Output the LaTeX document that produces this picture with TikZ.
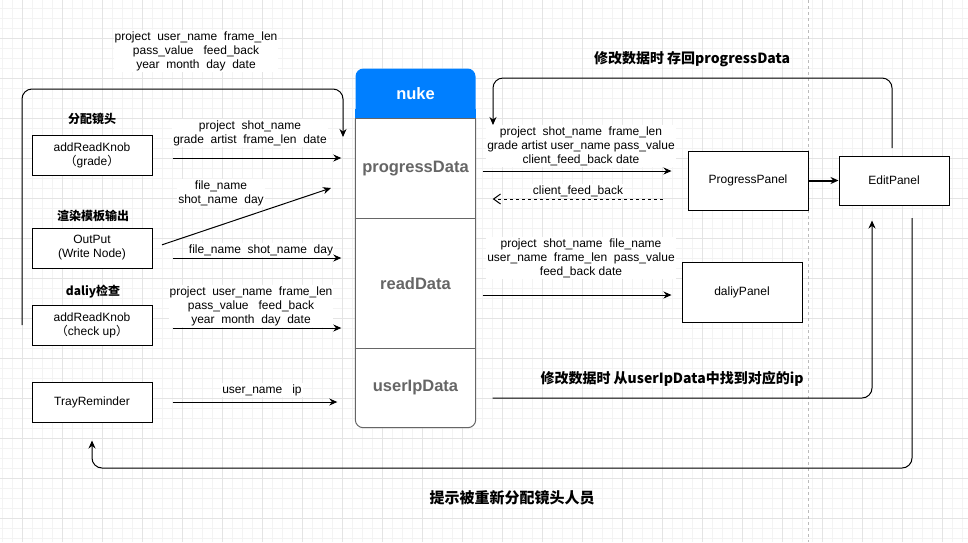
\documentclass[tikz,border=0pt]{standalone}
\usepackage{fontspec}
\setmainfont{Liberation Sans}
\newfontfamily\cjk{Noto Sans CJK SC}
\usetikzlibrary{arrows.meta}

\begin{document}
\begin{tikzpicture}[x=1pt,y=-1pt,
  box/.style={draw,fill=white,line width=1pt,minimum width=120pt,minimum height=40pt,align=center,font=\fontsize{12}{14}\selectfont},
  sect/.style={minimum width=120pt,text=textgray,font=\fontsize{16.5}{18}\selectfont\bfseries},
  lbl/.style={fill=white,inner sep=1pt,align=center,font=\fontsize{12}{14}\selectfont},
  note/.style={font=\cjk\fontsize{12}{14}\selectfont\bfseries},
  flow/.style={line width=1pt,-{Stealth[length=8pt,width=7pt]}},
  back/.style={line width=1pt,dash pattern=on 3pt off 3pt,-{Straight Barb[length=7pt,width=10pt]}}]
\definecolor{nukeblue}{HTML}{007FFF}
\definecolor{textgray}{HTML}{666666}
\definecolor{gridminor}{HTML}{F3F3F3}
\definecolor{gridmajor}{HTML}{E4E4E4}
\definecolor{guide}{HTML}{BBBBBB}
\useasboundingbox (0,0) rectangle (968,542);
\fill[white] (0,0) rectangle (968,542);
  \foreach \gx in {2,12,...,962}
  {  \draw[gridminor] (\gx,0) -- (\gx,542);}
  \foreach \gy in {8,18,...,538}
  {  \draw[gridminor] (0,\gy) -- (968,\gy);}
  \foreach \gx in {22,62,...,942}
  {  \draw[gridmajor] (\gx,0) -- (\gx,542);}
  \foreach \gy in {38,78,...,518}
  {  \draw[gridmajor] (0,\gy) -- (968,\gy);}
\draw[guide,dash pattern=on 3pt off 3pt] (808,0) -- (808,542);

\node[note] (notePick) at (92,119) {分配镜头};
\node[note] (noteRender) at (93,216) {渲染模板输出};
\node[note] (noteDaily) at (93,292) {daliy检查};
\node[box] (knob1) at (92,155.5) {addReadKnob\\{\cjk （}grade{\cjk ）}};
\node[box] (out) at (92,248) {OutPut\\(Write Node)};
\node[box] (knob2) at (92,325.5) {addReadKnob\\{\cjk （}check up{\cjk ）}};
\node[box] (tray) at (92,402) {TrayReminder};

\fill[white,rounded corners=8pt] (355.5,68.5) rectangle (475.5,427.5);
\node[sect,fill=nukeblue,rounded corners=8pt,minimum height=50pt,text=white] (nuke) at (415.5,93.5) {nuke};
\fill[nukeblue] ([yshift=10pt]nuke.south west) rectangle (nuke.south east);
\node[sect,minimum height=100pt] (progress) at (415.5,168.5) {progressData};
\node[sect,minimum height=130pt] (read) at (415.5,283.5) {readData};
\node[sect,minimum height=79pt] (userip) at (415.5,388) {userIpData};
\draw[textgray,line width=1pt,rounded corners=8pt] (nuke.south west) -- (userip.south west) -- (userip.south east) -- (nuke.south east);
  \foreach \sec in {progress,read,userip}
  {  \draw[textgray,line width=1pt] (\sec.north west) -- (\sec.north east);}

\node[box,minimum height=59pt] (ppanel) at (748,180.5) {ProgressPanel};
\node[box,minimum width=110pt,minimum height=49pt] (epanel) at (894,180.5) {EditPanel};
\node[box,minimum height=60pt] (dpanel) at (742,292) {daliyPanel};

\node[lbl] (lblLoop) at (196,51) {project~~user\_name~~frame\_len\\pass\_value~~~feed\_back\\year~~month~~day~~date};
\node[lbl] (lblKnob1) at (250,133) {project~~shot\_name\\grade~~artist~~frame\_len~~date};
\node[lbl] (lblDiag) at (221,193) {file\_name\\shot\_name~~day};
\node[lbl] (lblOut) at (261,250) {file\_name~~shot\_name~~day};
\node[lbl] (lblKnob2) at (251,306) {project~~user\_name~~frame\_len\\pass\_value~~~feed\_back\\year~~month~~day~~date};
\node[lbl] (lblTray) at (262,390) {user\_name~~~ip};
\node[lbl] (lblProg) at (581,146) {project~~shot\_name~~frame\_len\\grade artist user\_name pass\_value\\client\_feed\_back date};
\node[lbl] (lblFeed) at (578,191) {client\_feed\_back};
\node[lbl] (lblRead) at (581,258) {project~~shot\_name~~file\_name\\user\_name~~frame\_len~~pass\_value\\feed\_back date};
\node[note,font=\cjk\fontsize{14}{16}\selectfont\bfseries] (noteSave) at (692,59) {修改数据时 存回progressData};
\node[note,font=\cjk\fontsize{14}{16}\selectfont\bfseries] (noteFind) at (672,379) {修改数据时 从userIpData中找到对应的ip};
\node[note,font=\cjk\fontsize{15}{17}\selectfont\bfseries] (noteRemind) at (512,498) {提示被重新分配镜头人员};

\coordinate (loopStart) at (22,325);
\coordinate (loopEnd) at (343,137);
\coordinate (diagEnd) at (331,188);
\coordinate (editTop) at (892,148);
\coordinate (progIn) at (493,125);
\coordinate (editOut) at (912,218);

\draw[flow,rounded corners=10pt] (loopStart) -- (22,89) -- (343,89) -- (loopEnd);
\draw[flow,shorten <=20pt,shorten >=14pt] ([yshift=-2.5pt]knob1.east) -- ([yshift=-2.5pt]knob1.east -| progress.west);
\draw[flow,shorten <=10pt] (out.east) -- (diagEnd);
\draw[flow,shorten <=20pt,shorten >=14pt] ([yshift=-10pt]out.east) -- ([yshift=-10pt]out.east -| read.west);
\draw[flow,shorten <=20pt,shorten >=14pt] ([yshift=-2.5pt]knob2.east) -- ([yshift=-2.5pt]knob2.east -| read.west);
\draw[flow,shorten <=20pt,shorten >=18pt] (tray.east) -- (tray.east -| userip.west);

\draw[flow,shorten <=7pt,shorten >=16pt] ([yshift=-2.5pt]progress.east) -- ([yshift=-2.5pt]progress.east -| ppanel.west);
\draw[back,shorten <=25pt,shorten >=17pt] ([yshift=-18.5pt]ppanel.west) -- ([yshift=-18.5pt]ppanel.west -| progress.east);
\draw[flow,line width=2pt] (ppanel) -- (epanel);
\draw[flow,shorten <=7pt,shorten >=10pt] ([yshift=-3pt]dpanel.west -| read.east) -- ([yshift=-3pt]dpanel.west);
\draw[flow,rounded corners=10pt] (editTop) -- (892,78) -- (493,78) -- (progIn);
\draw[flow,rounded corners=10pt,shorten <=17pt,shorten >=15pt] ([yshift=-10pt]userip.east) -| ([xshift=-22pt]epanel.south);
\draw[flow,rounded corners=10pt,shorten >=18pt] (editOut) -- (912,468) -| (tray.south);
\end{tikzpicture}
\end{document}
